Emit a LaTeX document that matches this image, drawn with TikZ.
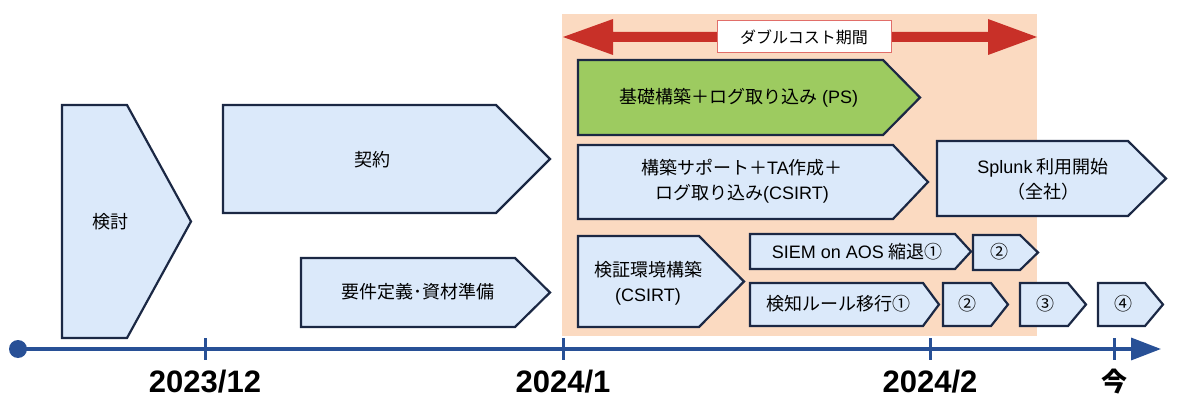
\documentclass[tikz,border=0pt]{standalone}
\usepackage{fontspec}
\setmainfont{Liberation Sans}
\newfontfamily\jp{Noto Sans CJK JP}
\usetikzlibrary{arrows.meta}
\definecolor{navy}{RGB}{27,40,68}
\definecolor{lightblue}{RGB}{219,233,250}
\definecolor{peach}{RGB}{251,218,193}
\definecolor{greenbox}{RGB}{157,203,96}
\definecolor{redarrow}{RGB}{200,48,40}
\definecolor{redline}{RGB}{225,110,105}
\definecolor{axisc}{RGB}{40,80,150}
\newcommand\chev[6]{% style, x1, y1, xr, xt, y2
  \draw[#1] (#2,#3) -- (#4,#3) -- (#5,{(#3+#6)/2}) -- (#4,#6) -- (#2,#6) -- cycle;}
\begin{document}
\begin{tikzpicture}[x=1pt,y=-1pt,
  box/.style={draw=navy, line width=2.2pt, fill=lightblue, line join=miter},
  gbox/.style={draw=navy, line width=2.2pt, fill=greenbox, line join=miter},
  txt/.style={font=\jp\fontsize{18}{25}\selectfont, align=center, inner sep=0pt},
  lab/.style={font=\fontsize{31}{31}\selectfont\bfseries, inner sep=0pt},
  tickmark/.style={draw=axisc, line width=3pt}]
\useasboundingbox (0,0) rectangle (1200,409);
% background
\fill[peach] (562,14) rectangle (1037,336);
% double arrow
\fill[redarrow] (563,37) -- (613,19) -- (613,32) -- (988,32) -- (988,19) -- (1037,37)
  -- (988,55) -- (988,42) -- (613,42) -- (613,55) -- cycle;
\node[draw=redline, line width=1pt, fill=white, minimum width=174pt, minimum height=32pt,
  inner sep=0pt, font=\jp\fontsize{16}{16}\selectfont] (dbl) at (804,37) {ダブルコスト期間};
% boxes
\chev{box}{62}{105}{127}{191}{338}
\node[txt] (kento) at (110,222) {検討};
\chev{box}{223}{105}{496}{550}{213}
\node[txt] (keiyaku) at (372,160) {契約};
\chev{box}{301}{258}{515}{550}{327}
\node[txt] (yoken) at (418,292) {要件定義･資材準備};
\chev{gbox}{578}{60}{883}{920}{135}
\node[txt] (kiso) at (739,98) {基礎構築＋ログ取り込み {\rmfamily (PS)}};
\chev{box}{578}{145}{893}{928}{219}
\node[txt] (support) at (742,181) {構築サポート＋{\rmfamily TA}作成＋\\ログ取り込み{\rmfamily (CSIRT)}};
\chev{box}{937}{141}{1128}{1166}{216}
\node[txt] (splunk) at (1043,179) {{\rmfamily Splunk} 利用開始\\（全社）};
\chev{box}{578}{236}{699}{744}{327}
\node[txt] (kensho) at (648,283) {検証環境構築\\{\rmfamily (CSIRT)}};
\chev{box}{750}{234}{955}{971}{269}
\node[txt] (siem) at (857,252) {{\rmfamily SIEM on AOS} 縮退①};
\chev{box}{973}{235}{1020}{1038}{270}
\node[txt] (siem2) at (999,252) {②};
\chev{box}{750}{283}{923}{939}{326}
\node[txt] (rule) at (838,304) {検知ルール移行①};
\chev{box}{943}{283}{991}{1008}{326}
\node[txt] (rule2) at (967,304) {②};
\chev{box}{1020}{283}{1068}{1086}{326}
\node[txt] (rule3) at (1045,304) {③};
\chev{box}{1098}{283}{1145}{1163}{326}
\node[txt] (rule4) at (1123,304) {④};
% axis
\coordinate (start) at (18,349);
\coordinate (finish) at (1161,349);
\draw[axisc, line width=3.5pt, -{Triangle[length=30pt,width=22pt]}] (start) -- (finish);
\fill[axisc] (start) circle[radius=9pt];
\draw[tickmark] (205,338) -- (205,360);
\draw[tickmark] (563,338) -- (563,360);
\draw[tickmark] (930,338) -- (930,360);
\draw[tickmark] (1114,338) -- (1114,360);
\node[lab] (l1) at (205,382) {2023/12};
\node[lab] (l2) at (563,382) {2024/1};
\node[lab] (l3) at (930,382) {2024/2};
\node[lab, font=\jp\fontsize{26}{26}\selectfont\bfseries] (l4) at (1114,382) {今};
\end{tikzpicture}
\end{document}
